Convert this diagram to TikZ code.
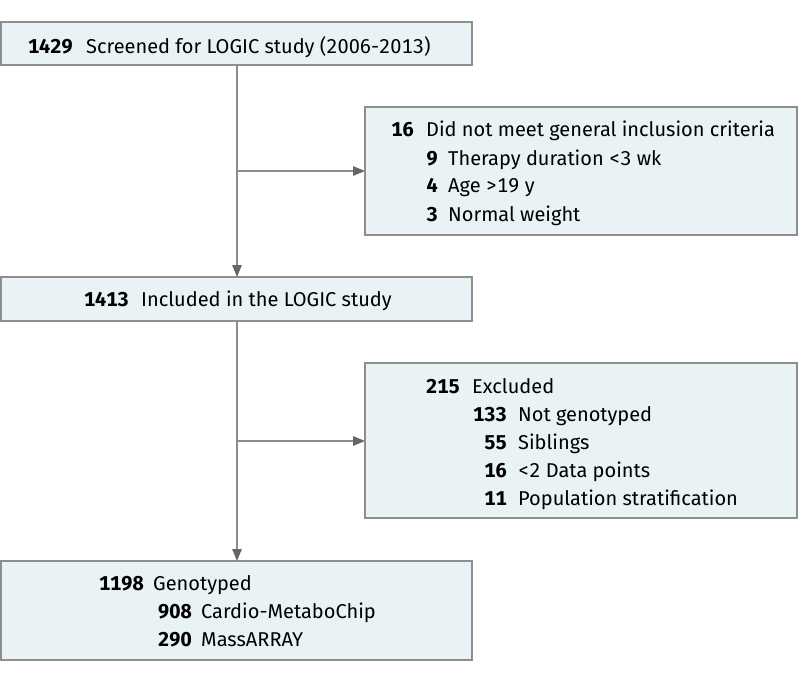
\documentclass[tikz,border=0pt]{standalone}
\usepackage{fontspec}
\setmainfont{Fira Sans}[Numbers=Monospaced]
\usetikzlibrary{arrows.meta}
\definecolor{boxfill}{HTML}{E9F3F5}
\definecolor{boxline}{HTML}{8E8E8E}
\definecolor{arrowc}{HTML}{8C8C8C}
\definecolor{arrowhd}{HTML}{666666}
\tikzset{
  flowbox/.style={draw=boxline, fill=boxfill, line width=1.5pt},
  num/.style={anchor=base east, inner sep=0pt, font=\fontsize{20}{22}\selectfont\bfseries},
  lbl/.style={anchor=base west, inner sep=0pt, font=\fontsize{20}{22}\selectfont},
  conn/.style={draw=arrowc, line width=1.3pt, -{Triangle[length=12pt,width=9.5pt,color=arrowhd]}}
}
\begin{document}
\begin{tikzpicture}[x=1pt,y=-1pt]
\useasboundingbox (0,0) rectangle (798,682);
% boxes
\path[flowbox] (1,22) rectangle (472,65);
\coordinate (b1s) at (237,65);
\path[flowbox] (365,107) rectangle (797,235);
\coordinate (b2w) at (365,171);
\path[flowbox] (1,277) rectangle (472,321);
\coordinate (b3n) at (237,277);
\coordinate (b3s) at (237,321);
\path[flowbox] (365,363) rectangle (797,518);
\coordinate (b4w) at (365,441);
\path[flowbox] (1,561) rectangle (472,660);
\coordinate (b5n) at (237,561);
\coordinate (j1) at (237,171);
\coordinate (j2) at (237,441);
% texts box1
\node[num] (n1) at (73,53.5) {1429};
\node[lbl] (t1) at (86,53.5) {Screened for LOGIC study (2006-2013)};
% box2
\node[num] (n2a) at (414,137) {16};
\node[lbl] (t2a) at (426,137) {Did not meet general inclusion criteria};
\node[num] (n2b) at (438,165) {9};
\node[lbl] (t2b) at (448,165) {Therapy duration <3 wk};
\node[num] (n2c) at (438,193) {4};
\node[lbl] (t2c) at (448,193) {Age >19 y};
\node[num] (n2d) at (438,221) {3};
\node[lbl] (t2d) at (448,221) {Normal weight};
% box3
\node[num] (n3) at (129,306) {1413};
\node[lbl] (t3) at (141,306) {Included in the LOGIC study};
% box4
\node[num] (n4a) at (460,393) {215};
\node[lbl] (t4a) at (472,393) {Excluded};
\node[num] (n4b) at (507,421) {133};
\node[lbl] (t4b) at (518,421) {Not genotyped};
\node[num] (n4c) at (507,449) {55};
\node[lbl] (t4c) at (518,449) {Siblings};
\node[num] (n4d) at (507,477) {16};
\node[lbl] (t4d) at (518,477) {<2 Data points};
\node[num] (n4e) at (507,505) {11};
\node[lbl] (t4e) at (518,505) {Population stratification};
% box5
\node[num] (n5a) at (144,590) {1198};
\node[lbl] (t5a) at (153,590) {Genotyped};
\node[num] (n5b) at (192,618) {908};
\node[lbl] (t5b) at (201,618) {Cardio-MetaboChip};
\node[num] (n5c) at (192,646) {290};
\node[lbl] (t5c) at (201,646) {MassARRAY};
% connectors
\draw[conn] (b1s) -- (b3n);
\draw[conn] (j1) -- (b2w);
\draw[conn] (b3s) -- (b5n);
\draw[conn] (j2) -- (b4w);
\end{tikzpicture}
\end{document}
